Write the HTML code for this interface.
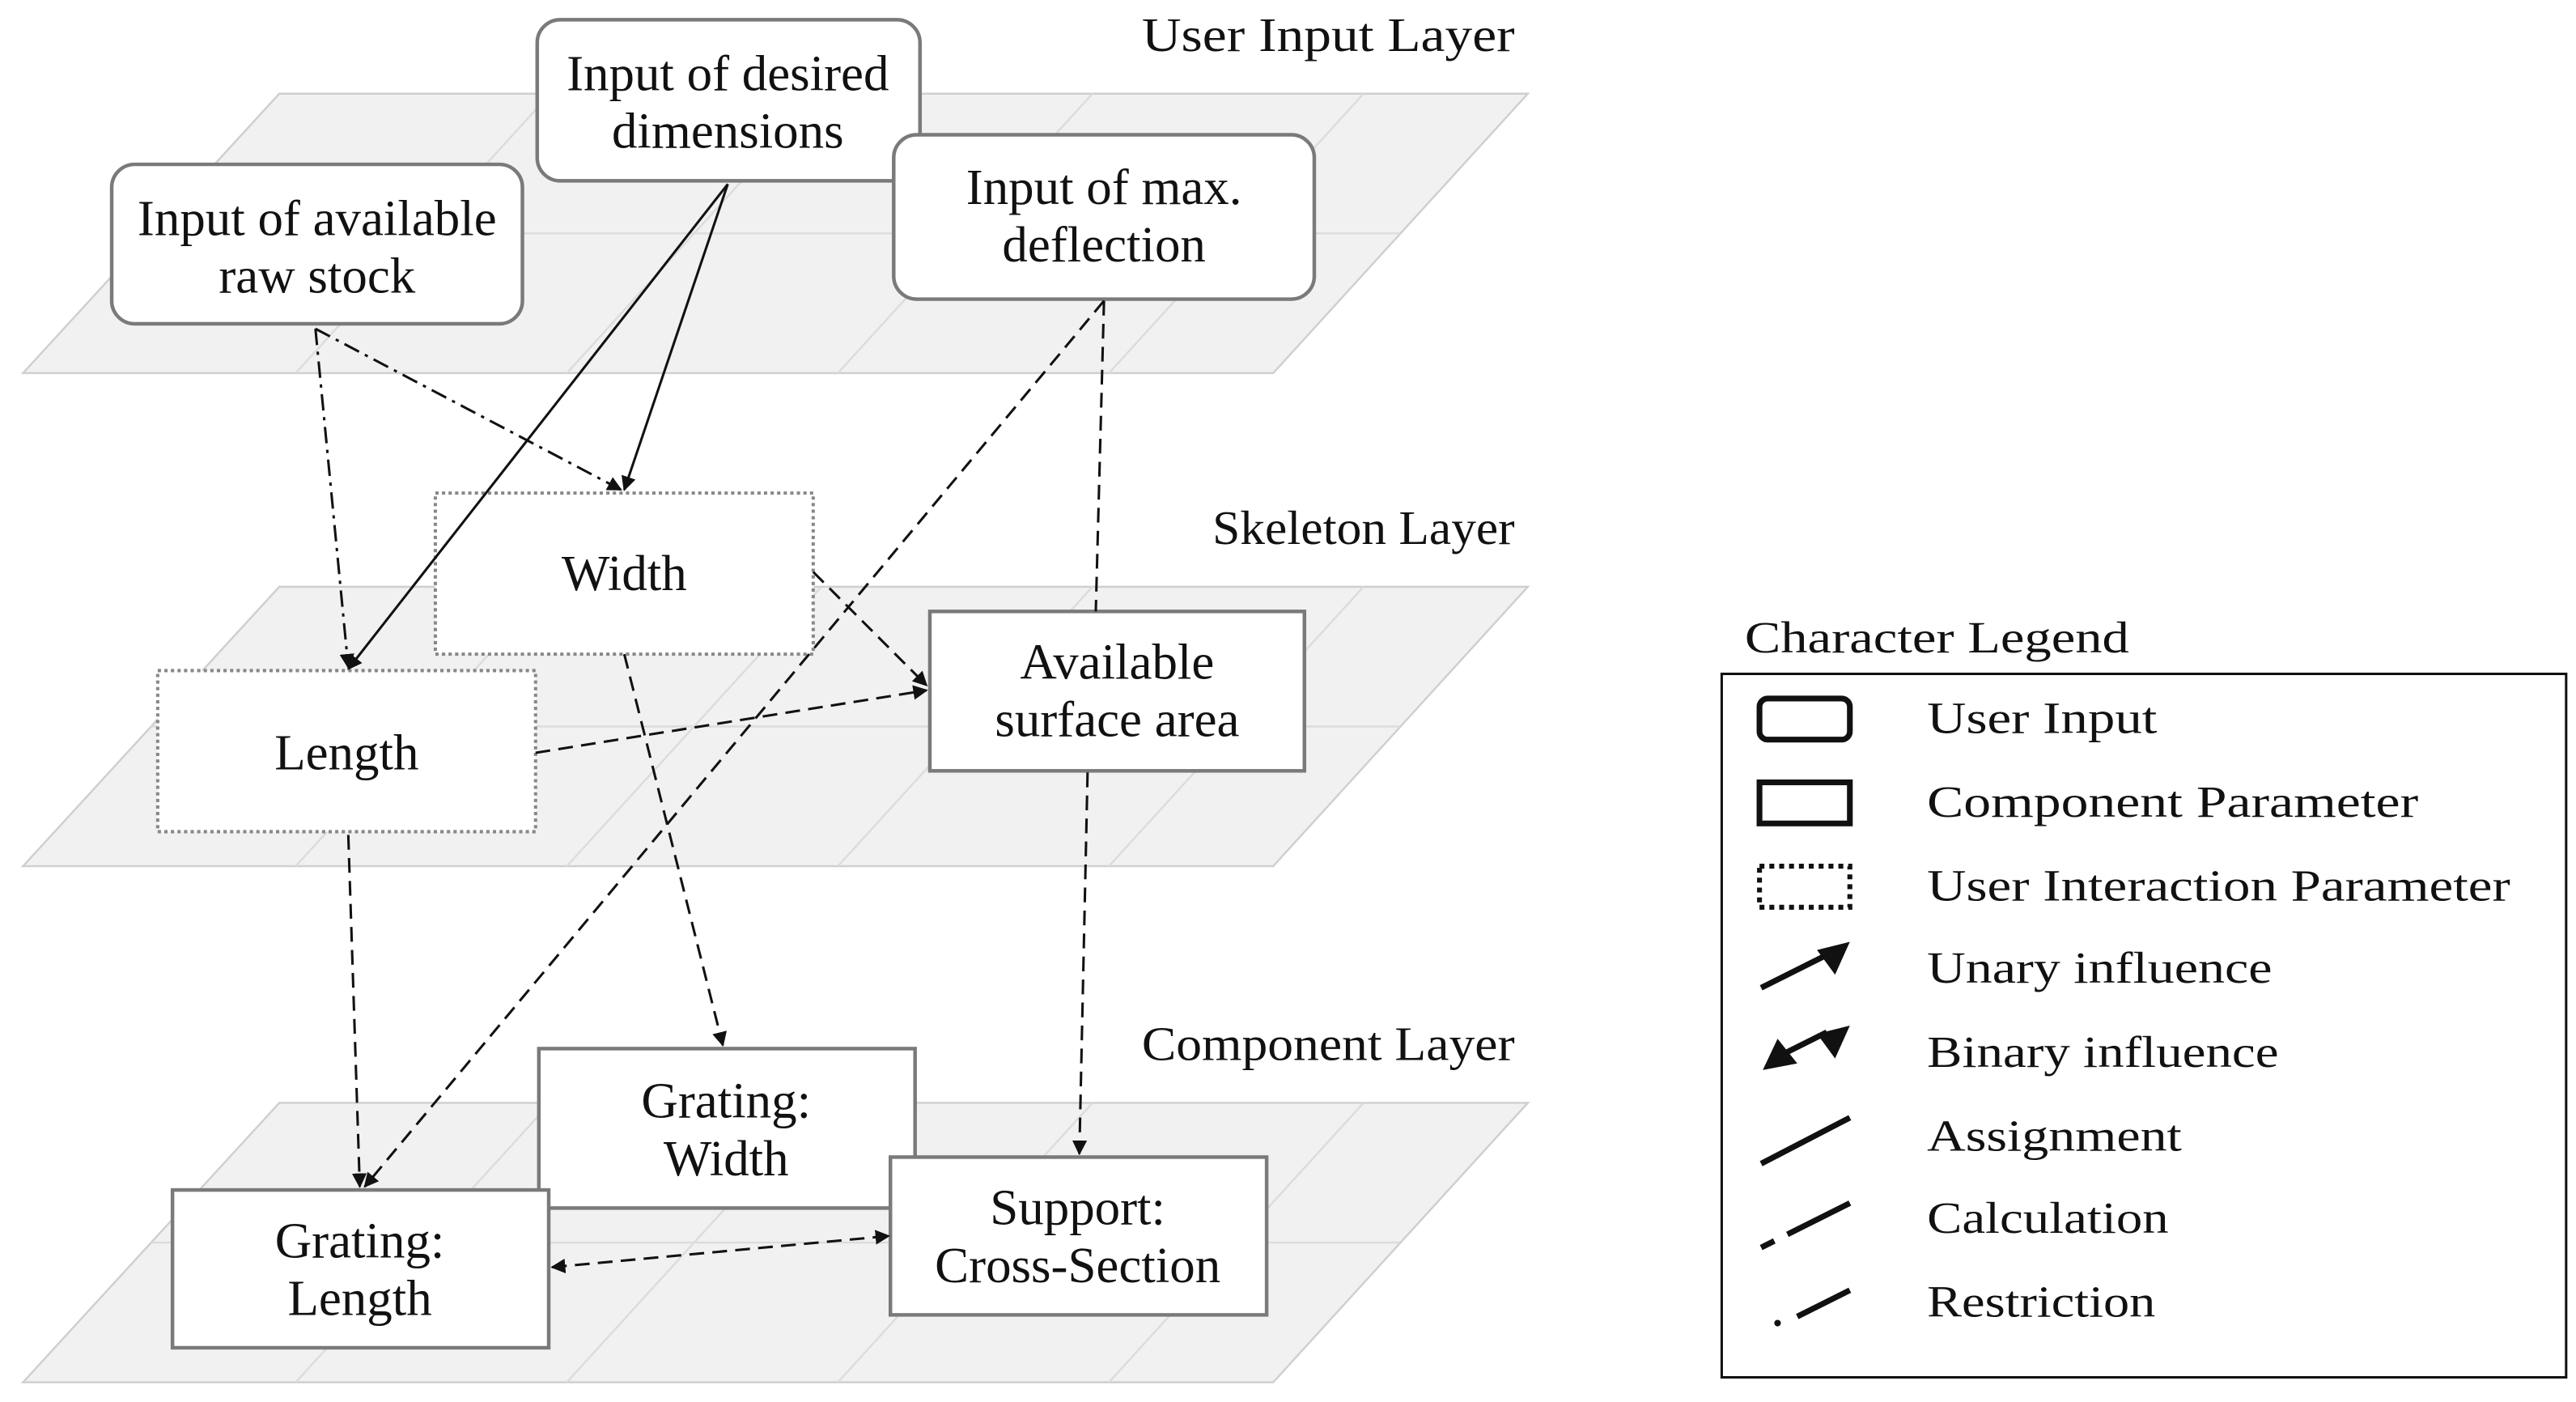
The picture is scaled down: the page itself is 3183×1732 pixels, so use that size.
<!DOCTYPE html>
<html><head><meta charset="utf-8"><style>
html,body{margin:0;padding:0;background:#fff;}
svg{display:block;}
text{font-family:"Liberation Serif",serif;fill:#111;}
</style></head><body>
<svg width="3183" height="1732" viewBox="0 0 1568 853" preserveAspectRatio="none" xmlns="http://www.w3.org/2000/svg">
<defs>
<marker id="a" viewBox="0 0 10 10" refX="9" refY="5" markerWidth="9" markerHeight="9" orient="auto-start-reverse" markerUnits="userSpaceOnUse"><path d="M0,0 L10,5 L0,10 z" fill="#111"/></marker>
<g id="plane">
<path d="M170,0 L930,0 L775,170 L14,170 Z" fill="#f1f1f1" stroke="#cfcfcf" stroke-width="1.2"/>
<g stroke="#dcdcdc" stroke-width="1.2" fill="none">
<line x1="92" y1="85" x2="852" y2="85"/>
<line x1="335" y1="0" x2="180" y2="170"/>
<line x1="500" y1="0" x2="345" y2="170"/>
<line x1="665" y1="0" x2="510" y2="170"/>
<line x1="830" y1="0" x2="675" y2="170"/>
</g>
</g>
</defs>
<use href="#plane" y="57"/>
<use href="#plane" y="357"/>
<use href="#plane" y="671"/>

<g font-size="29" text-anchor="start">
<text x="695" y="31" textLength="227" lengthAdjust="spacingAndGlyphs">User Input Layer</text>
<text x="738" y="331" textLength="184" lengthAdjust="spacingAndGlyphs">Skeleton Layer</text>
<text x="695" y="645" textLength="227" lengthAdjust="spacingAndGlyphs">Component Layer</text>
</g>

<!-- nodes -->
<g fill="#fff" stroke="#7a7a7a" stroke-width="2.2">
<rect x="327" y="12" width="233" height="98" rx="14"/>
<rect x="68" y="100" width="250" height="97" rx="14"/>
<rect x="544" y="82" width="256" height="100" rx="14"/>
<rect x="566" y="372" width="228" height="97"/>
<rect x="328" y="638" width="229" height="97"/>
<rect x="105" y="724" width="229" height="96"/>
<rect x="542" y="704" width="229" height="96"/>
</g>
<g fill="#fff" stroke="#888" stroke-width="2" stroke-dasharray="2,2">
<rect x="265" y="300" width="230" height="98"/>
<rect x="96" y="408" width="230" height="98"/>
</g>

<!-- connectors -->
<g stroke="#111" stroke-width="1.5" fill="none">
<line x1="443" y1="112" x2="212" y2="407" marker-end="url(#a)"/>
<line x1="443" y1="112" x2="380" y2="298" marker-end="url(#a)"/>
<line x1="192" y1="200" x2="212" y2="406" stroke-dasharray="10,4,2,4" marker-end="url(#a)"/>
<line x1="192" y1="200" x2="378" y2="298" stroke-dasharray="10,4,2,4" marker-end="url(#a)"/>
<line x1="672" y1="183" x2="222" y2="722" stroke-dasharray="9,5" marker-end="url(#a)"/>
<line x1="672" y1="183" x2="667" y2="372" stroke-dasharray="9,5"/>
<line x1="380" y1="398" x2="440" y2="636" stroke-dasharray="9,5" marker-end="url(#a)"/>
<line x1="495" y1="348" x2="564" y2="417" stroke-dasharray="9,5" marker-end="url(#a)"/>
<line x1="326" y1="458" x2="564" y2="420" stroke-dasharray="9,5" marker-end="url(#a)"/>
<line x1="212" y1="508" x2="219" y2="722" stroke-dasharray="9,5" marker-end="url(#a)"/>
<line x1="662" y1="470" x2="657" y2="702" stroke-dasharray="9,5" marker-end="url(#a)"/>
<line x1="336" y1="771" x2="541" y2="752" stroke-dasharray="9,5" marker-start="url(#a)" marker-end="url(#a)"/>
</g>

<g font-size="31" text-anchor="middle">
<text x="443" y="55">Input of desired</text><text x="443" y="90">dimensions</text>
<text x="193" y="143">Input of available</text><text x="193" y="178">raw stock</text>
<text x="672" y="124">Input of max.</text><text x="672" y="159">deflection</text>
<text x="380" y="359">Width</text>
<text x="211" y="468">Length</text>
<text x="680" y="413">Available</text><text x="680" y="448">surface area</text>
<text x="442" y="680">Grating:</text><text x="442" y="715">Width</text>
<text x="219" y="765">Grating:</text><text x="219" y="800">Length</text>
<text x="656" y="745">Support:</text><text x="656" y="780">Cross-Section</text>
</g>

<!-- legend -->
<text x="1062" y="397" font-size="27" textLength="234" lengthAdjust="spacingAndGlyphs">Character Legend</text>
<rect x="1048" y="410" width="514" height="428" fill="none" stroke="#111" stroke-width="1.5"/>
<g stroke="#111" stroke-width="3.5" fill="none">
<rect x="1071" y="425" width="55" height="25" rx="5"/>
<rect x="1071" y="476" width="55" height="25"/>
<rect x="1071" y="527" width="55" height="25" stroke-width="3" stroke-dasharray="3,3"/>
<line x1="1072" y1="601" x2="1110" y2="582"/>
<line x1="1086" y1="641" x2="1112" y2="628"/>
<line x1="1072" y1="708" x2="1126" y2="680"/>
<line x1="1072" y1="759" x2="1080" y2="755"/>
<line x1="1088" y1="751" x2="1126" y2="732"/>
<line x1="1094" y1="801" x2="1126" y2="785"/>
</g>
<path d="M1126,573 L1117,593 L1106,578 Z" fill="#111"/>
<path d="M1126,624 L1117,644 L1106,629 Z" fill="#111"/>
<path d="M1073,651 L1082,632 L1094,647 Z" fill="#111"/>
<circle cx="1082" cy="805" r="2" fill="#111"/>
<g font-size="27">
<text x="1173" y="446" textLength="140" lengthAdjust="spacingAndGlyphs">User Input</text>
<text x="1173" y="497" textLength="299" lengthAdjust="spacingAndGlyphs">Component Parameter</text>
<text x="1173" y="548" textLength="355" lengthAdjust="spacingAndGlyphs">User Interaction Parameter</text>
<text x="1173" y="598" textLength="210" lengthAdjust="spacingAndGlyphs">Unary influence</text>
<text x="1173" y="649" textLength="214" lengthAdjust="spacingAndGlyphs">Binary influence</text>
<text x="1173" y="700" textLength="155" lengthAdjust="spacingAndGlyphs">Assignment</text>
<text x="1173" y="750" textLength="147" lengthAdjust="spacingAndGlyphs">Calculation</text>
<text x="1173" y="801" textLength="139" lengthAdjust="spacingAndGlyphs">Restriction</text>
</g>
</svg>
</body></html>
